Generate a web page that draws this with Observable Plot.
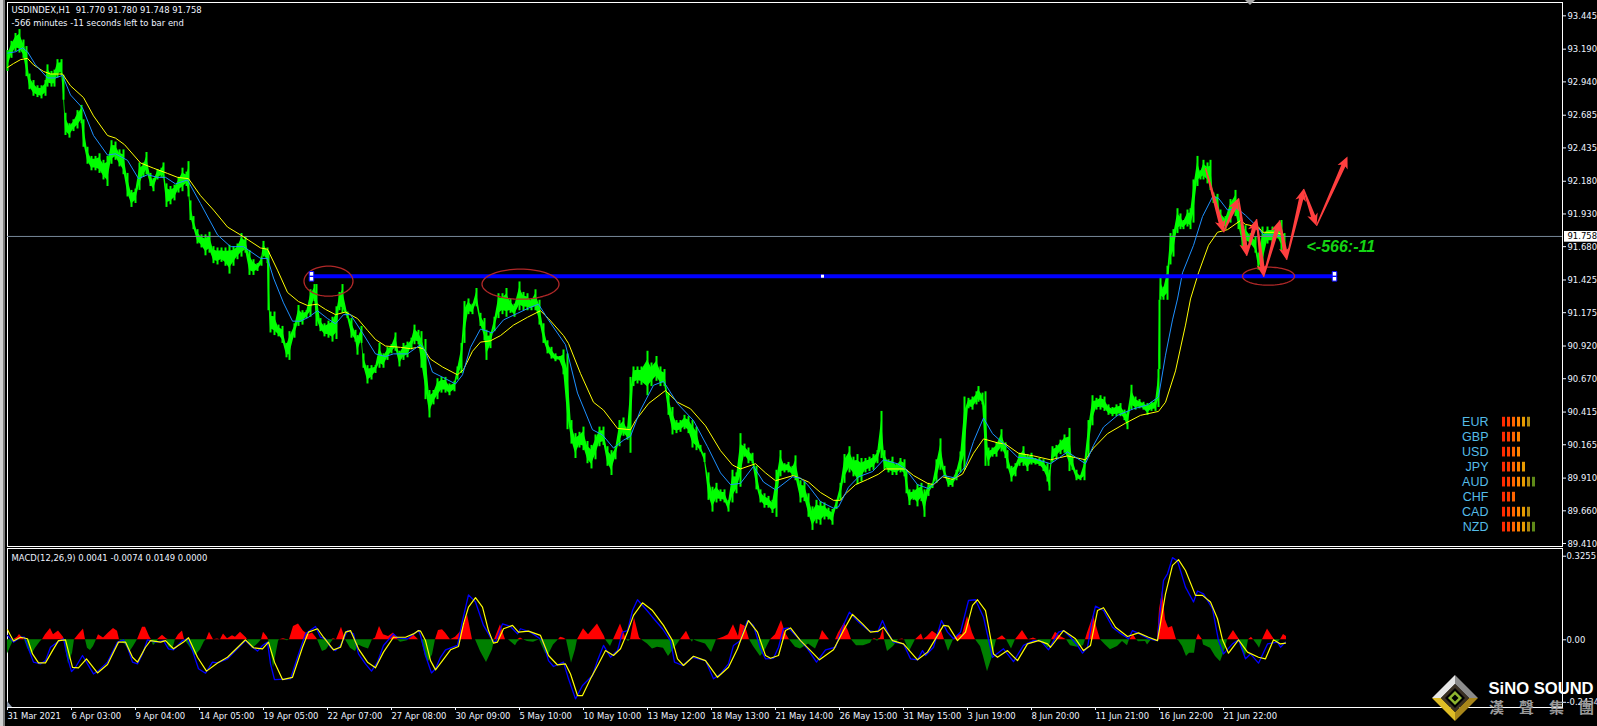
<!DOCTYPE html>
<html><head><meta charset="utf-8">
<script src="https://cdn.jsdelivr.net/npm/d3@7"></script>
<script src="https://cdn.jsdelivr.net/npm/@observablehq/plot@0.6"></script>
<style>
html,body{margin:0;padding:0;background:#000;}
#wrap{position:relative;width:1597px;height:726px;overflow:hidden;background:#000;}
#wrap svg{position:absolute;left:0;overflow:visible;}
#s1{position:absolute;left:0;top:0;width:3px;height:726px;background:#cfcfcf;}
#s2{position:absolute;left:3px;top:0;width:2px;height:726px;background:#7d7d7d;}
</style></head><body>
<div id="wrap"><div id="s1"></div><div id="s2"></div></div>
<script>
const bars=[0,4,8,12,16,19,22,26,30,34,
38,40,44,47,50,54,56,58,62,66,
70,74,76,80,84,88,92,96,100,104,
108,112,116,120,124,128,132,136,139,143,
146,150,154,156,159,163,167,171,175,179,
181,183,186,190,194,198,202,206,210,214,
218,222,226,230,234,238,242,246,250,254,
256,260,
261,263,267,271,275,279,282,287,291,295,
299,303,307,309,313,317,321,325,329,332,
335,340,344,348,350,354,356,360,364,368,
372,376,380,384,388,392,396,400,404,407,
411,414,418,422,426,430,434,438,442,
447,450,454,457,461,465,469,473,477,479,
483,487,491,495,499,503,507,512,516,520,
524,528,532,536,540,544,548,552,556,560,
564,568,572,576,580,584,588,592,596,600,
604,608,612,616,620,623,626,630,634,640,
644,649,653,657,661,665,669,673,677,681,
685,689,693,697,701,705,709,713,717,721,
725,729,733,737,741,745,749,753,757,761,
765,769,773,777,781,785,788,793,797,801,
805,809,
813,817,821,825,829,833,837,842,846,850,
854,858,862,866,870,874,877,881,885,889,
893,897,899,902,906,910,914,917,921,925,
929,933,937,941,945,949,953,957,961,965,
969,971,975,978,981,985,989,994,998,1000,
1004,1008,1012,1016,1020,1024,1028,1032,1036,1040,
1042,1045,1049,1053,1057,1062,1065,1069,1073,1077,
1081,1085,1089,1093,1097,1101,1105,1109,1113,1117,
1120,1124,1128,1132,1136,1140,1144,1148,1151,
1152,1153,1156,1160,1163,1166,1170,1173,1176,1180,
1183,1186,1190,1193,1196,1200,1203,1206,1210,1213,
1218,1223,1228,1231,1235,1238,1243,1248,1251,1255,
1260,1265,1270,1274,1277];
const highs=[93.18,93.25,93.31,93.34,93.26,93.21,93.00,92.95,92.91,92.91,
92.95,93.07,93.02,93.03,93.11,93.11,92.99,92.70,92.62,92.65,
92.72,92.76,92.65,92.44,92.37,92.37,92.39,92.34,92.37,92.49,
92.48,92.42,92.42,92.24,92.11,92.12,92.32,92.32,92.40,92.24,
92.20,92.27,92.28,92.32,92.16,92.14,92.15,92.21,92.28,92.25,
92.33,92.03,91.91,91.81,91.77,91.77,91.79,91.68,91.67,91.67,
91.67,91.69,91.68,91.70,91.78,91.75,91.65,91.58,91.55,91.60,
91.72,91.67,
91.64,91.18,91.18,91.08,91.07,90.94,91.03,91.09,91.23,91.19,
91.19,91.35,91.39,91.39,91.13,91.09,91.11,91.14,91.22,91.33,
91.39,91.18,91.13,91.04,91.00,91.07,90.86,90.77,90.77,90.77,
90.94,90.86,90.91,90.93,91.02,90.88,90.94,90.95,90.98,91.08,
91.04,91.03,90.97,90.58,90.58,90.67,90.68,90.68,90.63,
90.65,90.76,90.94,91.26,91.28,91.24,91.36,91.17,91.13,91.04,
91.02,91.14,91.32,91.32,91.36,91.28,91.24,91.41,91.33,91.32,
91.28,91.35,91.27,91.09,90.96,90.91,90.86,90.84,90.89,90.86,
90.35,90.25,90.26,90.30,90.19,90.16,90.24,90.30,90.30,90.15,
90.12,90.15,90.35,90.37,90.30,90.68,90.76,90.76,90.76,90.88,
90.79,90.84,90.76,90.74,90.56,90.45,90.35,90.35,90.39,90.38,
90.35,90.30,90.16,90.10,89.95,89.84,89.87,89.82,89.82,89.74,
89.97,89.95,90.25,90.17,90.14,90.10,90.00,89.82,89.79,89.77,
89.74,89.97,90.12,90.02,90.03,90.00,90.08,89.89,89.88,89.79,
89.69,89.74,
89.73,89.72,89.68,89.67,89.74,89.87,90.09,90.15,90.07,90.09,
90.06,90.06,90.07,90.09,90.12,90.42,90.12,90.05,90.07,90.02,
90.06,90.05,89.97,89.82,89.82,89.86,89.87,89.82,89.87,89.87,
90.05,90.21,90.00,89.91,89.91,89.97,90.11,90.53,90.52,90.53,
90.57,90.61,90.56,90.57,90.14,90.14,90.18,90.28,90.18,90.12,
90.00,90.02,90.10,90.15,90.09,90.10,90.06,90.06,90.05,90.02,
89.97,90.15,90.16,90.20,90.24,90.29,90.07,89.97,89.93,90.05,
90.35,90.54,90.52,90.54,90.53,90.47,90.45,90.47,90.48,90.43,
90.42,90.62,90.53,90.51,90.49,90.48,90.49,90.51,90.74,
91.27,91.45,91.37,91.53,91.78,91.81,91.97,91.93,91.88,91.96,
91.97,92.19,92.37,92.26,92.34,92.32,92.34,92.09,92.08,91.96,
91.91,92.04,92.11,92.01,91.83,91.84,91.78,91.75,91.63,91.83,
91.83,91.83,91.83,91.88,91.78];
const lows=[93.02,93.12,93.17,93.16,93.12,92.98,92.88,92.83,92.82,92.81,
92.83,92.90,92.90,92.90,92.97,92.99,92.80,92.53,92.51,92.56,
92.58,92.62,92.44,92.31,92.26,92.26,92.24,92.19,92.14,92.31,
92.34,92.29,92.23,92.06,91.98,92.01,92.11,92.21,92.23,92.14,
92.10,92.19,92.21,92.20,91.98,92.00,92.03,92.09,92.10,92.14,
92.06,91.88,91.81,91.70,91.67,91.61,91.63,91.55,91.54,91.56,
91.53,91.47,91.53,91.58,91.60,91.63,91.46,91.46,91.49,91.53,
91.60,91.55,
91.19,91.02,91.00,90.99,90.94,90.83,90.81,90.98,91.07,91.08,
91.13,91.14,91.26,91.07,91.03,90.99,90.98,90.95,90.97,91.19,
91.17,91.13,90.98,90.95,90.85,90.94,90.75,90.63,90.66,90.71,
90.75,90.75,90.81,90.86,90.88,90.76,90.81,90.83,90.89,90.93,
90.93,90.75,90.51,90.37,90.47,90.51,90.56,90.56,90.54,
90.57,90.66,90.71,90.94,91.16,91.16,91.22,91.07,90.96,90.81,
90.90,91.03,91.13,91.16,91.14,91.17,91.14,91.19,91.19,91.19,
91.19,91.19,91.08,90.94,90.86,90.82,90.80,90.81,90.70,90.28,
90.17,90.06,90.14,90.12,90.02,89.98,90.05,90.15,90.16,90.00,
89.93,90.05,90.15,90.23,90.20,90.10,90.61,90.63,90.62,90.54,
90.61,90.65,90.61,90.61,90.39,90.24,90.25,90.26,90.28,90.25,
90.14,90.12,90.11,90.03,89.74,89.65,89.72,89.73,89.72,89.65,
89.72,89.79,89.84,90.07,90.02,90.02,89.82,89.72,89.68,89.68,
89.64,89.61,89.92,89.95,89.95,89.92,89.89,89.72,89.73,89.61,
89.51,89.56,
89.55,89.59,89.59,89.55,89.67,89.74,89.87,89.95,89.92,89.86,
89.88,89.95,89.96,89.97,90.02,90.06,89.97,89.95,89.93,89.93,
89.95,89.92,89.79,89.70,89.74,89.69,89.73,89.61,89.77,89.83,
89.87,89.97,89.92,89.84,89.84,89.89,89.95,89.97,90.44,90.43,
90.47,90.49,90.47,90.00,90.00,90.07,90.07,90.11,90.06,89.98,
89.88,89.92,90.00,90.00,89.96,90.01,90.01,90.00,89.96,89.88,
89.81,90.03,90.06,90.09,90.10,89.96,89.97,89.89,89.89,89.89,
90.07,90.31,90.43,90.43,90.42,90.39,90.38,90.38,90.38,90.35,
90.28,90.43,90.43,90.44,90.43,90.39,90.42,90.42,90.45,
90.74,91.27,91.27,91.27,91.54,91.60,91.78,91.81,91.81,91.83,
91.81,91.86,92.14,92.19,92.19,92.16,92.11,92.01,91.96,91.83,
91.81,91.86,91.91,91.81,91.68,91.70,91.69,91.63,91.50,91.49,
91.70,91.70,91.74,91.65,91.64];

const maSlowBars=[0,6,13,20,26,36,43,55,63,76,86,100,108,117,133,146,160,170,181,193,206,220,233,241,253,260,270,280,291,300,310,318,328,338,350,360,368,378,393,403,410,416,423,435,450,456,465,473,483,493,506,520,533,541,556,561,573,586,596,610,623,628,641,658,670,683,698,713,725,733,748,758,768,786,801,813,826,833,838,848,860,871,878,898,906,920,926,935,945,955,966,976,990,998,1011,1026,1043,1060,1078,1086,1100,1118,1133,1151,1158,1168,1178,1183,1191,1201,1210,1220,1233,1238,1251,1255,1268,1276];
const maSlow=[93.05,93.08,93.11,93.12,93.07,93.02,93.00,93.00,92.91,92.82,92.68,92.53,92.51,92.46,92.32,92.28,92.24,92.21,92.20,92.07,91.96,91.83,91.77,91.73,91.67,91.66,91.50,91.33,91.26,91.23,91.24,91.20,91.16,91.18,91.13,91.04,90.97,90.92,90.91,90.90,90.91,90.90,90.82,90.76,90.70,90.74,90.88,90.95,90.96,91.00,91.08,91.14,91.19,91.13,91.00,90.94,90.71,90.49,90.43,90.29,90.28,90.35,90.48,90.58,90.49,90.44,90.31,90.12,90.01,89.98,90.02,89.95,89.89,89.93,89.88,89.80,89.74,89.74,89.79,89.86,89.90,89.94,89.98,89.98,89.93,89.87,89.86,89.92,89.90,89.94,90.10,90.21,90.18,90.17,90.10,90.08,90.05,90.08,90.05,90.14,90.25,90.33,90.39,90.42,90.49,90.73,91.08,91.28,91.48,91.69,91.79,91.81,91.88,91.85,91.83,91.79,91.79,91.77];
const maFastBars=[0,8,15,20,28,40,48,55,63,75,86,100,108,120,131,140,150,158,168,180,193,210,223,236,253,260,266,276,285,293,301,310,320,328,336,343,355,368,378,386,400,413,418,425,438,448,455,463,473,485,496,510,521,531,540,558,570,585,595,606,616,623,633,646,656,670,686,700,713,723,733,746,756,768,785,793,800,813,826,831,841,851,865,876,890,898,910,921,936,948,958,966,976,985,998,1010,1026,1043,1060,1078,1086,1096,1110,1126,1140,1151,1158,1165,1170,1175,1186,1195,1205,1211,1220,1230,1238,1250,1256,1270,1275];
const maFast=[93.16,93.17,93.20,93.17,93.07,92.97,92.97,92.99,92.84,92.74,92.53,92.38,92.39,92.34,92.20,92.23,92.21,92.21,92.16,92.19,92.01,91.77,91.68,91.68,91.59,91.59,91.44,91.25,91.11,91.11,91.14,91.19,91.13,91.09,91.16,91.16,91.02,90.86,90.84,90.86,90.86,90.93,90.88,90.72,90.67,90.63,90.70,90.91,91.05,91.02,91.12,91.17,91.21,91.24,91.13,90.93,90.56,90.28,90.24,90.14,90.20,90.23,90.43,90.62,90.65,90.48,90.35,90.15,89.95,89.86,89.87,90.00,89.88,89.82,89.92,89.91,89.86,89.73,89.68,89.69,89.84,89.92,89.96,90.05,90.02,89.98,89.86,89.83,89.93,89.91,90.00,90.19,90.37,90.25,90.16,90.07,90.06,90.02,90.11,90.02,90.16,90.30,90.39,90.44,90.47,90.53,90.85,91.12,91.28,91.48,91.69,91.91,92.06,92.05,91.96,91.97,91.92,91.83,91.77,91.77,91.75];

const histBars=[0,4,6,10,12,15,17,20,24,28,33,35,38,43,46,51,56,57,59,61,65,67,71,76,78,80,83,86,89,91,96,101,106,110,112,118,122,126,130,135,138,142,144,146,150,151,155,159,161,165,168,171,175,177,181,188,193,197,199,202,206,210,213,216,220,225,228,233,239,240,245,251,254,256,260,261,265,266,271,272,276,280,282,286,291,296,301,305,309,310,315,319,324,326,329,334,338,343,348,351,356,361,365,368,372,376,381,386,390,393,400,401,406,411,
414,418,421,425,428,431,435,438,443,448,455,460,463,465,468,473,479,485,487,493,498,501,508,510,513,516,520,526,532,538,541,546,551,553,556,559,564,568,570,576,581,590,597,598,603,606,613,619,621,623,627,632,634,640,645,650,656,661,666,673,679,683,685,686,690,698,704,709,716,721,726,731,733,
738,742,746,753,758,763,768,774,778,782,788,793,801,808,812,815,820,822,828,831,837,841,844,849,856,863,865,867,870,873,876,877,880,886,891,895,897,902,908,914,916,920,925,930,933,937,941,946,951,955,960,965,968,973,976,980,985,989,995,999,1004,1008,1015,1021,1026,1030,1038,1041,1044,1048,1053,1059,
1063,1070,1076,1078,1080,1086,1090,1093,1098,1103,1110,1115,1120,1122,1126,1129,1131,1138,1140,1144,1150,1152,1155,1158,1161,1165,1169,1171,1175,1179,1182,1187,1189,1191,1195,1196,1203,1208,1213,1218,1220,1226,1232,1235,1238,1241,1244,1246,1250,1252,1255,1260,1267,1270,1273,1276,1279];
const histVals=[-.055,-.020,-.004,.010,.021,.007,0,-.033,-.059,-.033,-.007,0,.020,.044,.020,.034,.010,0,-.052,-.094,-.052,0,.020,.042,0,-.033,-.042,-.026,0,.020,.007,.026,.044,.033,0,-.020,-.049,-.026,0,.049,.049,.013,0,-.022,-.007,.004,.018,.004,-.026,-.039,0,.020,.034,0,-.020,-.062,-.039,-.007,0,.029,0,.003,0,.023,.004,.016,.010,.029,.007,0,-.036,-.013,0,.029,.010,0,-.078,-.110,-.007,0,.004,-.004,0,.052,.062,.033,.020,.026,.007,0,-.046,-.039,-.010,.004,0,.049,0,-.033,-.046,-.020,-.029,-.036,0,.007,.052,.020,.013,.026,.004,-.010,-.004,0,.020,0,
0,-.065,-.085,-.059,0,.036,.039,.026,0,.010,.039,.098,.039,0,0,-.046,-.088,-.039,0,.059,0,0,-.023,-.010,.007,0,-.007,-.010,0,-.052,-.059,-.020,0,.010,.007,0,-.091,-.039,0,.043,.020,.062,.013,0,-.026,0,.062,0,-.007,0,.085,.007,0,-.016,-.036,-.029,-.033,-.065,-.039,0,.033,0,-.010,0,-.007,-.016,-.049,0,.010,.020,.059,.013,.062,
.052,0,-.026,-.065,-.039,0,.020,.075,.026,0,-.029,-.036,-.016,-.036,0,.036,.010,0,0,.026,.065,.033,0,-.023,-.023,-.013,0,.004,-.005,.007,.046,0,-.046,-.026,0,.003,0,-.046,0,.023,0,.013,.033,.020,.046,0,-.046,0,.020,.020,.091,.026,0,-.026,-.065,-.124,-.065,0,.016,0,-.036,0,.036,0,.007,0,-.020,-.033,0,.029,.013,0,
-.023,-.029,-.023,0,.026,.094,.039,0,-.020,-.039,-.026,-.007,-.023,0,.020,0,-.008,-.007,-.020,0,0,.117,.189,.078,.046,.052,0,-.003,-.026,-.065,-.052,-.052,0,.023,0,-.020,-.033,-.065,-.085,-.033,0,.036,0,-.039,-.065,0,.010,0,-.020,-.033,0,.042,0,-.013,0,.021,.013];

const macdBars=[0,6,13,17,21,26,33,38,43,50,56,60,64,68,75,80,86,91,100,110,116,120,125,130,135,140,148,156,161,166,175,180,185,191,198,205,210,220,238,243,250,255,260,263,267,283,290,298,308,313,318,323,328,333,340,346,351,358,364,370,376,386,390,400,411,
413,418,424,428,433,438,450,455,461,468,476,485,488,495,503,510,513,523,535,541,546,556,561,568,575,585,590,596,603,610,615,620,625,630,638,645,655,663,667,675,685,698,706,713,721,726,733,
740,746,753,758,766,771,776,781,790,800,809,818,828,835,842,851,861,870,875,880,886,896,903,910,915,918,926,934,940,946,953,961,968,976,985,996,1006,1016,1026,1033,1041,1051,
1056,1063,1070,1075,1080,1085,1088,1096,1105,1111,1121,1125,1133,1141,1150,1152,1156,1160,1165,1170,1178,1186,1190,1196,1205,1211,1216,1225,1231,1238,1243,1251,1260,1270,1273,1278];
const macdVals=[.017,-.009,.010,.010,-.035,-.087,-.094,-.081,-.029,-.009,.004,-.068,-.124,-.107,-.061,-.094,-.133,-.120,-.087,-.009,0,-.029,-.087,-.094,-.055,0,-.009,-.003,-.035,-.039,-.003,.004,-.042,-.113,-.130,-.087,-.090,-.074,-.003,-.022,-.044,-.022,-.009,-.094,-.155,-.152,-.068,.023,.052,.010,.004,-.029,-.042,-.022,.036,.023,-.055,-.094,-.122,-.087,-.022,.023,.008,.004,.036,
.017,-.061,-.129,-.113,-.068,-.039,-.022,.075,.175,.147,.056,-.003,-.009,.062,.052,.023,.043,.030,-.003,-.081,-.104,-.087,-.152,-.230,-.178,-.139,-.081,-.022,-.068,-.042,.030,.036,.114,.156,.121,.088,.043,-.003,-.087,-.100,-.068,-.081,-.152,-.133,-.094,-.022,-.003,
.075,.056,-.035,-.074,-.072,-.029,.043,.046,.010,-.035,-.087,-.039,-.029,.049,.108,.069,.036,.030,.075,.030,-.009,-.016,-.074,-.078,-.042,-.061,-.029,.075,.030,.004,.030,.153,.156,.088,-.068,-.035,-.085,-.022,-.003,-.003,-.039,.030,
.036,.010,-.022,-.052,-.029,.082,.131,.114,.049,.030,.004,.036,.021,.004,-.003,.088,.231,.257,.320,.307,.205,.147,.190,.179,.121,-.003,-.055,-.016,0,-.074,-.055,-.091,-.016,-.009,-.029,-.009];
const signalBars=[0,6,13,20,25,31,38,45,51,58,65,71,79,90,100,111,118,125,130,138,143,153,158,166,176,181,190,199,210,220,238,246,255,261,267,275,285,295,301,310,316,326,333,338,343,351,360,368,376,386,398,406,411,
413,418,423,428,435,443,451,456,461,468,475,481,486,490,496,505,511,521,533,541,550,558,563,570,575,583,591,598,606,613,620,626,635,645,656,665,670,676,686,698,710,721,730,733,
741,750,758,763,771,778,783,793,803,812,826,836,845,855,863,871,876,885,896,910,920,931,936,941,950,958,965,970,978,986,990,1000,1010,1020,1031,1040,1043,
1056,1068,1076,1083,1090,1096,1108,1120,1131,1141,1150,1158,1165,1171,1178,1188,1195,1203,1210,1215,1221,1231,1240,1251,1258,1266,1273,1278];
const signalVals=[.039,-.005,.010,.004,-.055,-.090,-.090,-.042,-.003,0,-.107,-.109,-.074,-.129,-.096,-.009,-.009,-.068,-.087,-.029,-.003,-.009,-.003,-.035,-.009,.008,-.068,-.122,-.090,-.068,0,-.031,-.035,-.009,-.087,-.155,-.146,-.029,.030,.043,.010,-.039,-.029,.030,.036,-.035,-.087,-.109,-.048,.010,.010,.023,.036,
.034,-.003,-.081,-.117,-.081,-.039,-.026,.062,.127,.164,.127,.036,-.013,-.009,.043,.056,.030,.034,.017,-.061,-.098,-.094,-.133,-.217,-.217,-.152,-.094,-.042,-.061,-.035,.030,.095,.144,.114,.056,-.003,-.074,-.100,-.064,-.081,-.146,-.107,-.035,-.003,
.075,.030,-.061,-.072,-.061,.036,.046,-.003,-.042,-.078,-.039,.036,.099,.062,.030,.034,.049,-.003,-.016,-.078,-.048,.023,.056,.053,-.003,.030,.134,.156,.114,-.055,-.068,-.042,-.081,-.016,-.003,-.016,-.029,
.036,.004,-.042,-.022,.114,.125,.049,.013,.027,.010,-.003,.179,.290,.312,.270,.173,.173,.147,.082,0,-.052,0,-.048,-.068,-.074,0,-.016,-.013];

const priceTicks=[93.445,93.190,92.940,92.685,92.435,92.180,91.930,91.680,91.425,91.175,90.920,90.670,90.415,90.165,89.910,89.660,89.410];
const macdTicks=[0.3255,0,-0.2434];
const macdTickLabels=["0.3255","0.00","-0.2434"];
const timeTicks=[0,64,128,192,256,320,384,448,512,576,640,704,768,832,896,960,1024,1088,1152,1216];
const timeLabels=["31 Mar 2021","6 Apr 03:00","9 Apr 04:00","14 Apr 05:00","19 Apr 05:00","22 Apr 07:00","27 Apr 08:00","30 Apr 09:00","5 May 10:00","10 May 10:00","13 May 12:00","18 May 13:00","21 May 14:00","26 May 15:00","31 May 15:00","3 Jun 19:00","8 Jun 20:00","11 Jun 21:00","16 Jun 22:00","21 Jun 22:00"];
const currencies=["EUR","GBP","USD","JPY","AUD","CHF","CAD","NZD"];
const strengths=[6,4,4,5,7,3,6,7];
const strengthColors=["#ff2a00","#ff3c00","#ff6400","#ff8400","#e89a00","#b08a10","#5f8a18"];
const arrowBars=[1198,1216,1231,1239,1249,1256,1272,1279,1296,1309,1340];
const arrowPrices=[92.28,91.79,92.05,91.61,91.89,91.45,91.88,91.58,92.12,91.84,92.37];
const ellipses=[[321,91.416,24.5,.115],[513,91.393,38.5,.115],[1261,91.454,26,.069]];
const levelPrice=91.454, lastPrice=91.758;

const FONT='"DejaVu Sans Condensed","DejaVu Sans",sans-serif';
const TXT="#eef3ff";
const FS=9.4;
const zip=(a,b)=>a.map((x,i)=>({x,y:b[i]}));
const candles=bars.map((x,i)=>({x,h:highs[i],l:lows[i],a:lows[i]+.2*(highs[i]-lows[i]),b:highs[i]-.2*(highs[i]-lows[i])}));
const hist=zip(histBars,histVals);
const PXY=544/(93.547-89.387);
const arrows=arrowBars.slice(1).map((x,i)=>{const dx=x-arrowBars[i],dy=(arrowPrices[i+1]-arrowPrices[i])*PXY;
  return {x:arrowBars[i],y:arrowPrices[i],length:Math.hypot(dx,dy),rotate:Math.atan2(dx,dy)*180/Math.PI};});
const arrowShape={draw(c,l){c.moveTo(-.7,0);c.lineTo(-2.2,-l+10);c.lineTo(-5.5,-l+12);c.lineTo(0,-l);c.lineTo(5.5,-l+12);c.lineTo(2.2,-l+10);c.lineTo(.7,0);c.closePath();}};
const ellipsePts=ellipses.flatMap(([cx,cy,rx,ry],k)=>d3.range(0,73).map(i=>{const t=i*Math.PI/36;return {k,x:cx+rx*Math.cos(t),y:cy+ry*Math.sin(t)};}));
const legendY=k=>90.338-0.1147*k;
const legendSegs=strengths.flatMap((n,k)=>d3.range(n).map(i=>({x:1496+i*5,y:legendY(k),c:strengthColors[i]})));
const legendText=currencies.map((c,k)=>({c,y:legendY(k)}));

const xOpts={domain:[0,1555],range:[7,1562]};
const baseStyle={background:"transparent",color:TXT,fontFamily:FONT,fontSize:FS+"px",fontStretch:"condensed"};
const main=Plot.plot({
  width:1597,height:548,marginTop:2,marginBottom:2,marginLeft:7,marginRight:35,
  style:baseStyle,
  x:{...xOpts,axis:null},
  y:{domain:[89.387,93.547],range:[546,2]},
  length:{type:"identity"},
  marks:[
    Plot.frame({stroke:"#fff",strokeWidth:1}),
    Plot.areaY(candles,{x:"x",y1:"a",y2:"b",fill:"#00ff00"}),
    Plot.ruleX(candles,{x:"x",y1:"l",y2:"h",stroke:"#00ff00",strokeWidth:2}),
    Plot.ruleY([lastPrice],{x1:0,x2:1555,stroke:"#778899"}),
    Plot.line(zip(maSlowBars,maSlow),{x:"x",y:"y",stroke:"#ffff00",strokeWidth:1}),
    Plot.line(zip(maFastBars,maFast),{x:"x",y:"y",stroke:"#1e90ff",strokeWidth:1}),
    Plot.ruleY([levelPrice],{x1:304,x2:1327,stroke:"#0000ff",strokeWidth:4}),
    Plot.line(ellipsePts,{x:"x",y:"y",z:"k",stroke:"#b02828",strokeWidth:1.3}),
    Plot.dot([[304,91.472],[304,91.434],[1327,91.472],[1327,91.434]],{x:"0",y:"1",symbol:"square",r:2.6,fill:"#fff",stroke:"#0000ff",strokeWidth:1}),
    Plot.dot([[815,91.454]],{x:"0",y:"1",symbol:"square",r:1.7,fill:"#fff"}),
    Plot.vector(arrows,{x:"x",y:"y",length:"length",rotate:"rotate",anchor:"start",shape:arrowShape,fill:"#ff3f3f",stroke:"none"}),
    Plot.text(["<-566:-11"],{x:1299,y:91.68,textAnchor:"start",fill:"#14d414",fontFamily:'"Liberation Sans"',fontWeight:"bold",fontStyle:"italic",fontSize:16}),
    Plot.ruleX(legendSegs,{x:"x",y1:d=>d.y-.037,y2:d=>d.y+.037,stroke:"c",strokeWidth:3}),
    Plot.text(legendText,{x:1481,y:"y",text:"c",textAnchor:"end",fill:"#55bce8",fontFamily:'"Liberation Sans"',fontSize:12.5}),
    Plot.text(["USDINDEX,H1  91.770 91.780 91.748 91.758"],{x:4,y:93.489,textAnchor:"start",fill:TXT,fontSize:FS}),
    Plot.text(["-566 minutes -11 seconds left to bar end"],{x:4,y:93.391,textAnchor:"start",fill:TXT,fontSize:FS}),
    Plot.axisY(priceTicks,{anchor:"right",tickSize:3,tickPadding:2,tickFormat:d=>d.toFixed(3),label:null,fontSize:FS}),
    Plot.rect([0],{x1:1557,x2:1590,y1:91.714,y2:91.796,fill:"#fff"}),
    Plot.text(["91.758"],{x:1560,y:lastPrice,textAnchor:"start",fill:"#000",fontSize:FS}),
    ()=>{const g=d3.create("svg:polygon").attr("points","1245,0 1255,0 1250,5").attr("fill","#a8a8a8");return g.node();}
  ]
});
main.style.top="0";
const LOGO_TOP=547;
const lower=Plot.plot({
  width:1597,height:179,marginTop:1,marginBottom:19,marginLeft:7,marginRight:35,
  style:baseStyle,
  x:{...xOpts,axis:null},
  y:{domain:[-0.2636,0.3555],range:[160,1]},
  marks:[
    Plot.frame({stroke:"#fff",strokeWidth:1}),
    Plot.areaY(hist,{x:"x",y1:0,y2:d=>Math.max(d.y,0),fill:"#ff0000"}),
    Plot.areaY(hist,{x:"x",y1:0,y2:d=>Math.min(d.y,0),fill:"#008000"}),
    Plot.line(zip(macdBars,macdVals),{x:"x",y:"y",stroke:"#0000ff",strokeWidth:1.3}),
    Plot.line(zip(signalBars,signalVals),{x:"x",y:"y",stroke:"#ffff00",strokeWidth:1.2}),
    Plot.text(["MACD(12,26,9) 0.0041 -0.0074 0.0149 0.0000"],{x:4,y:.3205,textAnchor:"start",fill:TXT,fontSize:FS}),
    Plot.axisY(macdTicks,{anchor:"right",tickSize:3,tickPadding:1,tickFormat:d=>macdTickLabels[macdTicks.indexOf(d)],label:null,fontSize:FS}),
    Plot.axisX(timeTicks,{anchor:"bottom",tickSize:3,tickPadding:2,textAnchor:"start",tickFormat:d=>timeLabels[timeTicks.indexOf(d)],label:null,fontSize:FS}),
    ()=>{
      const g=d3.create("svg:g");
      g.append("polygon").attr("points","7,160 12,160 7,154").attr("fill","#8a96a8");
      const L=g.append("g").attr("transform",`translate(1455,${698-LOGO_TOP})`);
      const poly=(pts,fill)=>L.append("polygon").attr("points",pts).attr("fill",fill);
      poly("-23,0 0,-23 0,-14 -14,0","#e6e6e6");
      poly("23,0 0,-23 0,-14 14,0","#8c8c8c");
      poly("-23,0 0,23 0,14 -14,0","#e0bd25");
      poly("23,0 0,23 0,14 14,0","#a8861a");
      poly("-14,0 0,-14 14,0 0,14","#3a3022");
      poly("-10,0 0,-10 10,0 0,10","#000");
      poly("-7,0 0,-7 7,0 0,7","#8fb52f");
      poly("-3.5,0 0,-3.5 3.5,0 0,3.5","#000");
      return g.node();
    },
    Plot.text(["SiNO SOUND"],{x:1481,y:-.1896,textAnchor:"start",fill:"#fff",fontFamily:'"Liberation Sans"',fontWeight:"bold",fontSize:16.6}),
    Plot.text(["漢","聲","集","團"],{x:(d,i)=>1489+i*30,y:-.2664,fill:"#9a9a9a",fontFamily:'"Noto Sans CJK TC"',fontWeight:"bold",fontSize:15})
  ]
});
lower.style.top=LOGO_TOP+"px";
document.getElementById("wrap").append(main,lower);
</script>
</body></html>
